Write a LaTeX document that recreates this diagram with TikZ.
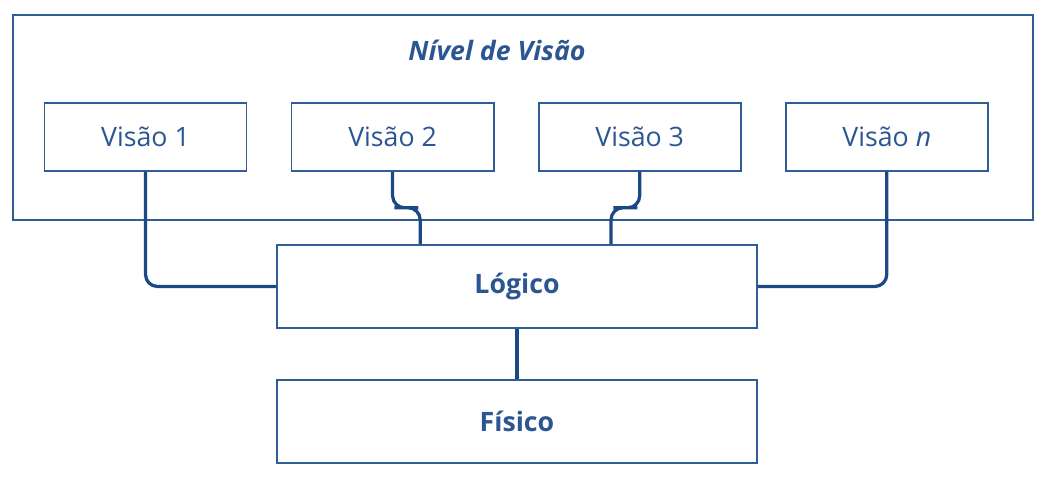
\documentclass[tikz,border=0pt]{standalone}
\usepackage{fontspec}
\setmainfont{Open Sans}
\usepackage{tikz}
\usetikzlibrary{positioning,calc}
\definecolor{boxblue}{RGB}{48,92,152}
\definecolor{lineblue}{RGB}{28,72,134}
\definecolor{textblue}{RGB}{44,86,146}
\tikzstyle{vbox}=[rectangle,draw=boxblue,line width=1.3pt,fill=white,
text=textblue,minimum width=5.05cm,minimum height=1.68cm,font=\fontsize{19}{22}\selectfont]
\tikzstyle{lbox}=[rectangle,draw=boxblue,line width=1.3pt,fill=white,
text=textblue,minimum width=12cm,minimum height=2.08cm,font=\fontsize{19}{22}\selectfont\bfseries]
\tikzstyle{outer}=[draw=boxblue,line width=1.3pt]
\tikzstyle{conn}=[draw=lineblue,line width=2.3pt,rounded corners=0.3cm]

\begin{document}
\begin{tikzpicture}[x=0.025cm,y=-0.025cm,node distance=1.08cm]
            \useasboundingbox (0,0) rectangle (1046,480);

            % VISAO PART

            \draw[outer] (13,15) rectangle (1033,220);
            \node[text=textblue,font=\fontsize{19}{22}\selectfont\bfseries\itshape] (titulo) at (497,50) {Nível de Visão};

            \node[vbox] (v1) at (145.5,137) {Visão 1};
            \node[vbox,right=of v1] (v2) {Visão 2};
            \node[vbox,right=of v2] (v3) {Visão 3};
            \node[vbox,right=of v3] (vn) {Visão \textit{n}};

            % LOGICO / FISICO PART

            \node[lbox] (logico) at (517,286.5) {Lógico};
            \node[lbox,below=1.25cm of logico] (fisico) {Físico};

            \coordinate (j2) at ([xshift=-2.42cm]logico.north);
            \coordinate (j3) at ([xshift=2.35cm]logico.north);

            % Connections

            \draw[conn] (v1.south) |- (logico.west);
            \draw[conn] (vn.south) |- (logico.east);
            \draw[conn] (v2.south) |- ($(v2.south)!0.5!(j2)$) -| (j2);
            \draw[conn] (v3.south) |- ($(v3.south)!0.5!(j3)$) -| (j3);
            \path[conn] (logico) edge (fisico);

        \end{tikzpicture}
\end{document}
